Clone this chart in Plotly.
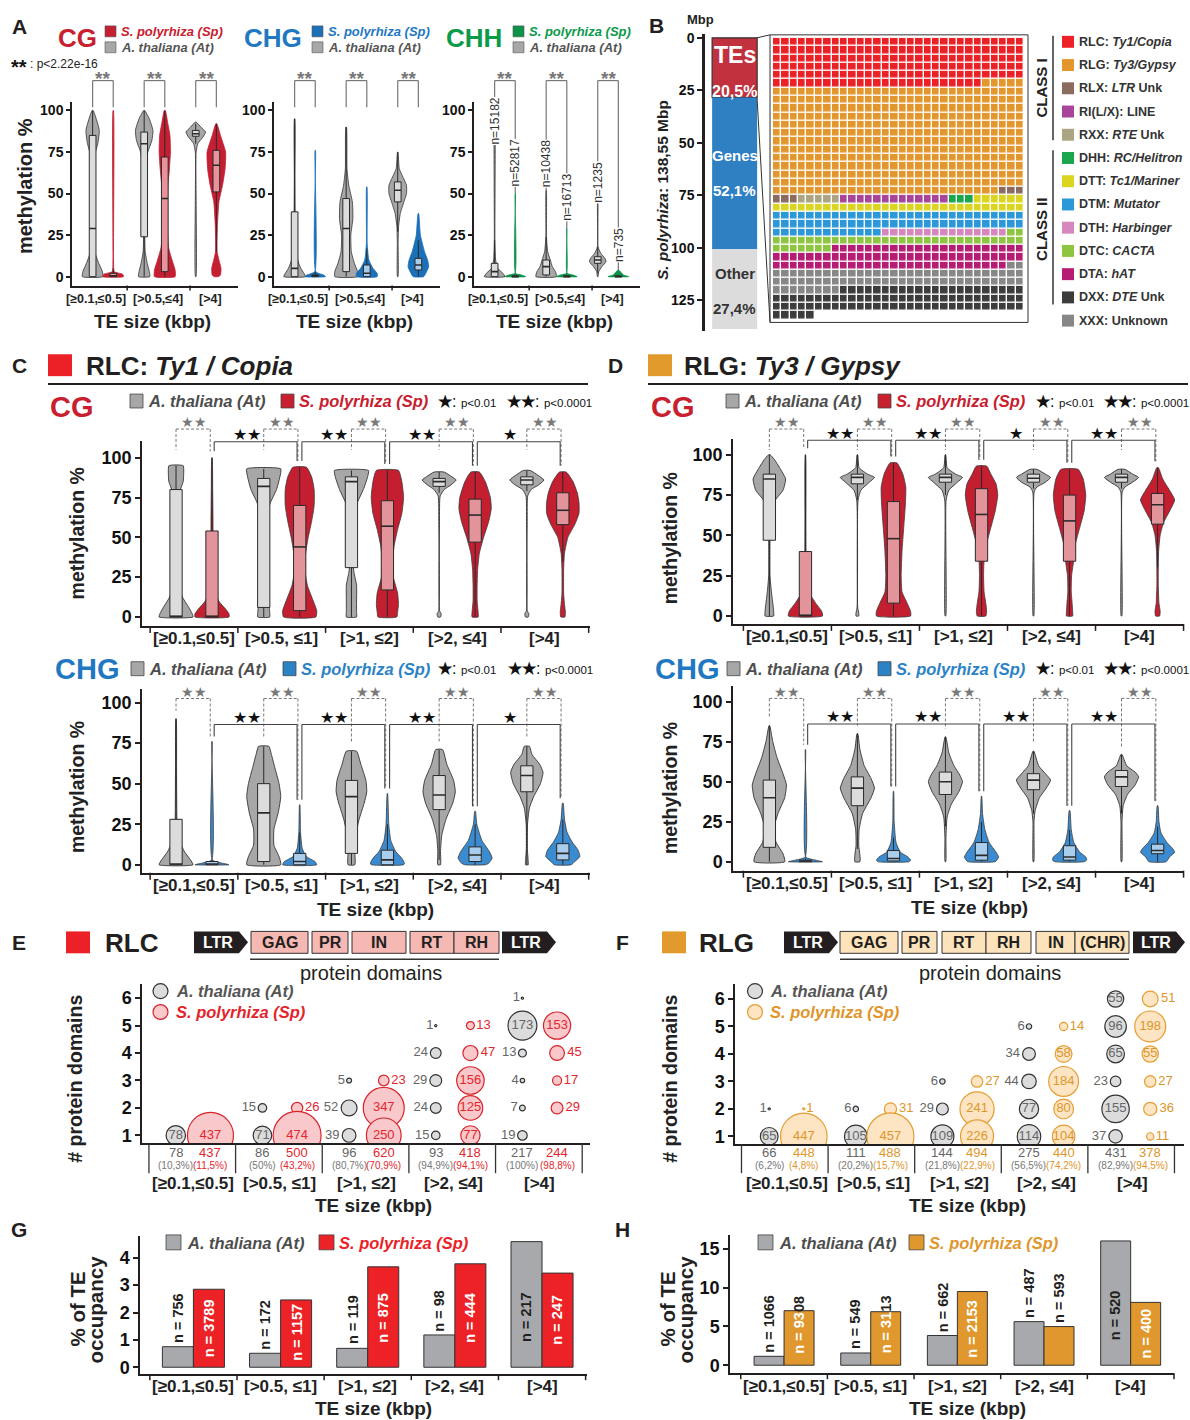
import plotly.graph_objects as go

W, H = 1190, 1420
FONT = "Liberation Sans, Arial, Helvetica, sans-serif"

# ======================= DATA =======================
A_GROUPS = ["[≥0.1,≤0.5]", "[>0.5,≤4]", "[>4]"]
SIZE_GROUPS = ["[≥0.1,≤0.5]", "[>0.5, ≤1]", "[>1, ≤2]", "[>2, ≤4]", "[>4]"]

# violin density profiles: (methylation %, relative half-width); boxes: (q1, median, q3, low, high)
A_CG_AT = [
    [(100, .05), (95, .35), (88, .65), (80, .5), (72, .15), (60, .06), (40, .05), (25, .08), (15, .2), (8, .6), (3, .95), (0, 1.0)],
    [(100, .05), (95, .5), (88, .85), (82, .75), (75, .35), (65, .12), (50, .06), (30, .05), (15, .1), (8, .3), (3, .5), (0, .55)],
    [(93, .05), (90, .5), (87, .95), (84, .7), (80, .2), (75, .04), (0, .03)],
]
A_CG_AT_BOX = [(0, 29, 85, 0, 100), (24, 80, 87, 0, 100), (84.5, 86, 88, 80, 92)]
A_CG_SP = [
    [(100, .02), (10, .03), (3, .1), (1.5, .9), (0, 1.0)],
    [(100, .05), (92, .3), (85, .5), (75, .55), (65, .45), (55, .3), (45, .25), (30, .25), (18, .35), (10, .7), (4, 1.0), (0, 1.0)],
    [(92, .05), (85, .4), (75, .9), (65, .85), (55, .6), (45, .25), (30, .1), (15, .08), (10, .25), (5, .45), (1, .4), (0, .2)],
]
A_CG_SP_BOX = [(0, 0.5, 2, 0, 5), (3, 47, 72, 0, 100), (51, 67, 76, 15, 92)]

A_CHG_AT = [
    [(95, .02), (60, .03), (40, .05), (20, .1), (10, .3), (5, .6), (2, .9), (0, 1.05)],
    [(90, .03), (65, .08), (55, .25), (45, .6), (35, .65), (25, .45), (15, .5), (8, .8), (3, 1.1), (0, 1.1)],
    [(75, .02), (65, .15), (60, .5), (55, .85), (50, .85), (45, .6), (38, .25), (30, .08), (20, .04), (0, .03)],
]
A_CHG_AT_BOX = [(0, 5, 39, 0, 95), (3, 29, 47, 0, 90), (45, 52, 57, 27, 75)]
A_CHG_SP = [
    [(76, .02), (3, .05), (1, .8), (0, 1.0)],
    [(54, .02), (20, .04), (10, .2), (5, .6), (2, 1.0), (0, 1.0)],
    [(38, .03), (25, .2), (15, .6), (10, .9), (6, 1.0), (3, .8), (0, .5)],
]
A_CHG_SP_BOX = [(0, 0.5, 1, 0, 3), (0, 2, 7, 0, 17), (4, 7, 11, 0, 22)]

A_CHH_AT = [
    [(100, .015), (22, .03), (10, .1), (5, .3), (2, .8), (0, 1.0)],
    [(52, .015), (24, .03), (15, .15), (10, .4), (6, .6), (3, .9), (0, 1.0)],
    [(44, .015), (18, .03), (14, .3), (11, .7), (9, .8), (6, .4), (3, .1), (0, .03)],
]
A_CHH_AT_BOX = [(0, 3, 8, 0, 22), (1, 6, 10, 0, 24), (8, 10, 12, 2, 18)]
A_CHH_SP = [
    [(50, .015), (2, .03), (1, .6), (0, 1.0)],
    [(29, .015), (2, .03), (1, .6), (0, 1.0)],
    [(4, .03), (1, .5), (0, 1.0)],
]
A_CHH_SP_BOX = [(0, 0, 0.5, 0, 1), (0, 0, 0.5, 0, 1), (0, 0, 0.5, 0, 1)]
A_CHH_N_AT = [15182, 10438, 1235]
A_CHH_N_SP = [52817, 16713, 735]

B_TOTAL_MBP = 138.55
B_PARTS = ["TEs", "Genes", "Other"]
B_PCT = [20.5, 52.1, 27.4]
WAFFLE_CLASSES = ["RLC", "RLG", "RLX", "RXX", "RI(L/X)", "DHH", "DTT", "DTM", "DTH", "DTC", "DTA", "XXX", "DXX"]
WAFFLE_COUNTS = [175, 392, 6, 5, 13, 3, 36, 73, 15, 39, 81, 70, 87]
B_LEG_CODES = ["RLC", "RLG", "RLX", "RI(L/X)", "RXX", "DHH", "DTT", "DTM", "DTH", "DTC", "DTA", "DXX", "XXX"]
B_LEG_NAMES = ["<i>Ty1/Copia</i>", "<i>Ty3/Gypsy</i>", "<i>LTR</i> Unk", "LINE", "<i>RTE</i> Unk",
               "<i>RC/Helitron</i>", "<i>Tc1/Mariner</i>", "<i>Mutator</i>", "<i>Harbinger</i>",
               "<i>CACTA</i>", "<i>hAT</i>", "<i>DTE</i> Unk", "Unknown"]

C_CG_AT = [
    [(95, .42), (90, .45), (85, .42), (80, .25), (75, .08), (65, .04), (45, .04), (30, .06), (20, .15), (12, .4), (6, .75), (2, .95), (0, 1.0)],
    [(93, 1.0), (88, .95), (80, .75), (72, .4), (65, .2), (50, .12), (35, .1), (25, .1), (15, .2), (8, .3), (3, .35), (0, .35)],
    [(92, 1.0), (88, .95), (80, .7), (72, .35), (65, .15), (50, .08), (35, .08), (28, .15), (20, .3), (10, .3), (3, .3), (0, .3)],
    [(91, .3), (88, .75), (86, 1.0), (83, .7), (80, .3), (76, .06), (60, .02), (4, .02), (2, .12), (0, .08)],
    [(92, .2), (89, .65), (86, 1.0), (83, .7), (80, .25), (76, .05), (60, .02), (4, .02), (2, .12), (0, .08)],
]
C_CG_AT_BOX = [(0, 0.5, 80, 0, 95), (6, 82, 87, 0, 93), (31, 85, 88, 0, 92), (82, 85, 87, 78, 91), (83, 86, 88, 79, 92)]
C_CG_SP = [
    [(100, .01), (80, .04), (60, .06), (45, .06), (30, .05), (20, .08), (10, .4), (5, .8), (2, 1.0), (0, 1.0)],
    [(94, .4), (88, .7), (80, .85), (70, .85), (60, .7), (50, .5), (40, .35), (30, .3), (20, .45), (10, .8), (4, 1.0), (0, .95)],
    [(92, .65), (85, .85), (75, .95), (65, .85), (55, .6), (45, .4), (35, .3), (25, .35), (15, .6), (8, .65), (3, .6), (0, .55)],
    [(91, .25), (85, .6), (75, .9), (68, .95), (60, .8), (50, .5), (40, .25), (30, .15), (20, .12), (10, .12), (3, .18), (0, .18)],
    [(91, .2), (85, .6), (78, .85), (72, .95), (65, .95), (58, .7), (50, .3), (40, .1), (30, .05), (15, .05), (8, .1), (3, .15), (0, .12)],
]
C_CG_SP_BOX = [(0, 0.5, 54, 0, 100), (4, 44, 70, 0, 94), (17, 57, 73, 0, 92), (47, 64, 74, 0, 91), (58, 67, 78, 35, 91)]
C_CHG_AT = [
    [(90, .01), (60, .03), (40, .04), (25, .06), (15, .2), (8, .5), (3, .85), (0, 1.0)],
    [(73, .3), (68, .45), (60, .65), (50, .9), (42, 1.0), (32, .85), (22, .6), (12, .6), (5, .9), (0, 1.0)],
    [(70, .3), (62, .55), (52, .85), (45, .9), (38, .75), (28, .45), (18, .25), (8, .2), (0, .2)],
    [(71, .2), (62, .45), (52, .85), (45, .95), (38, .8), (28, .4), (18, .15), (8, .08), (0, .08)],
    [(73, .15), (68, .3), (62, .75), (57, .95), (50, .8), (42, .4), (35, .15), (25, .04), (10, .03), (2, .08), (0, .08)],
]
C_CHG_AT_BOX = [(0, 0.5, 28, 0, 90), (2, 32, 50, 0, 73), (7, 42, 52, 0, 70), (34, 43, 55, 3, 71), (45, 55, 61, 0, 73)]
C_CHG_SP = [
    [(76, .01), (3, .02), (1, .6), (0, 1.0)],
    [(37, .01), (20, .05), (10, .15), (5, .4), (2, .9), (0, 1.0)],
    [(44, .01), (25, .08), (15, .2), (8, .5), (4, .85), (1, 1.0), (0, .95)],
    [(33, .02), (25, .1), (15, .4), (8, .85), (4, 1.0), (1, .8), (0, .6)],
    [(38, .02), (28, .1), (20, .25), (14, .55), (9, .9), (5, 1.0), (2, .7), (0, .5)],
]
C_CHG_SP_BOX = [(0, 0.5, 2, 0, 3), (0, 2, 7, 0, 20), (0, 3, 9, 0, 25), (2, 6, 11, 0, 25), (3, 7, 13, 0, 28)]

D_CG_AT = [
    [(100, .05), (97, .3), (92, .6), (85, .95), (78, .8), (72, .35), (65, .1), (50, .04), (25, .04), (15, .12), (8, .2), (3, .25), (0, .25)],
    [(100, .02), (92, .1), (88, .6), (86, 1.0), (83, .7), (78, .2), (72, .04), (5, .02), (2, .08), (0, .08)],
    [(100, .02), (92, .1), (88, .6), (86, 1.0), (83, .7), (78, .2), (72, .04), (0, .02)],
    [(91, .2), (88, .7), (86, 1.0), (83, .7), (80, .2), (77, .04), (0, .02)],
    [(91, .2), (88, .65), (86, 1.0), (83, .65), (80, .2), (77, .04), (0, .02)],
]
D_CG_AT_BOX = [(47, 85, 88, 0, 100), (82, 86, 88, 72, 100), (83, 86, 88, 75, 100), (83, 85.5, 88, 79, 91), (83, 86, 88, 79, 91)]
D_CG_SP = [
    [(100, .01), (60, .03), (30, .05), (15, .2), (8, .6), (3, .95), (0, 1.0)],
    [(95, .2), (88, .55), (80, .72), (70, .7), (55, .6), (40, .5), (25, .45), (15, .5), (8, .8), (3, 1.0), (0, 1.0)],
    [(93, .3), (88, .55), (82, .85), (75, .95), (65, .8), (55, .55), (45, .3), (35, .15), (25, .12), (15, .15), (8, .25), (3, .3), (0, .25)],
    [(91, .5), (85, .8), (75, .95), (65, .85), (55, .6), (45, .35), (35, .25), (25, .12), (15, .1), (8, .15), (3, .18), (0, .18)],
    [(92, .05), (85, .3), (78, .7), (72, 1.0), (66, .75), (58, .35), (50, .15), (40, .06), (20, .04), (8, .08), (3, .15), (0, .12)],
]
D_CG_SP_BOX = [(0, 0.5, 40, 0, 100), (8, 48, 71, 0, 95), (34, 63, 79, 0, 93), (34, 59, 75, 0, 91), (57, 69, 76, 30, 92)]
D_CHG_AT = [
    [(85, .02), (75, .2), (65, .45), (55, .8), (48, 1.0), (40, .9), (30, .5), (20, .25), (12, .4), (5, .8), (0, .9)],
    [(80, .02), (70, .15), (60, .4), (52, .8), (46, 1.0), (40, .8), (30, .3), (20, .1), (10, .08), (4, .15), (0, .15)],
    [(78, .02), (68, .2), (60, .5), (54, .85), (50, 1.0), (44, .8), (36, .35), (28, .1), (15, .03), (0, .02)],
    [(69, .03), (60, .3), (55, .7), (51, 1.0), (46, .75), (40, .35), (32, .1), (25, .03), (0, .02)],
    [(67, .03), (60, .3), (56, .8), (53, 1.0), (48, .8), (42, .35), (35, .1), (25, .03), (0, .02)],
]
D_CHG_AT_BOX = [(9, 40, 51, 0, 85), (35, 46, 53, 8, 80), (42, 50, 56, 22, 78), (45, 51, 55, 30, 69), (47, 53, 57, 30, 67)]
D_CHG_SP = [
    [(70, .01), (3, .02), (1, .6), (0, 1.0)],
    [(44, .01), (25, .04), (12, .15), (6, .4), (3, .85), (1, 1.0), (0, .9)],
    [(41, .01), (30, .06), (20, .2), (12, .45), (6, .85), (3, 1.0), (1, .9), (0, .8)],
    [(32, .02), (20, .1), (12, .25), (6, .6), (3, .95), (1, 1.0), (0, .85)],
    [(35, .02), (25, .08), (18, .2), (12, .55), (8, .9), (6, 1.0), (3, .7), (0, .5)],
]
D_CHG_SP_BOX = [(0, 0.5, 1, 0, 2), (0.5, 2, 7, 0, 15), (1, 4, 12, 0, 25), (1, 3, 10, 0, 20), (5, 7, 11, 0, 22)]

C_CG_SIG = ["★★", "★★", "★★", "★"]
C_CHG_SIG = ["★★", "★★", "★★", "★"]
D_CG_SIG = ["★★", "★★", "★", "★★"]
D_CHG_SIG = ["★★", "★★", "★★", "★★"]

# bubble data: per size class, (number of protein domains, count)
E_AT = [[(1, 78)], [(2, 15), (1, 71)], [(3, 5), (2, 52), (1, 39)],
        [(5, 1), (4, 24), (3, 29), (2, 24), (1, 15)], [(6, 1), (5, 173), (4, 13), (3, 4), (2, 7), (1, 19)]]
E_SP = [[(1, 437)], [(2, 26), (1, 474)], [(3, 23), (2, 347), (1, 250)],
        [(5, 13), (4, 47), (3, 156), (2, 125), (1, 77)], [(5, 153), (4, 45), (3, 17), (2, 29)]]
E_TOT_AT = [78, 86, 96, 93, 217]
E_PCT_AT = ["10,3%", "50%", "80,7%", "94,9%", "100%"]
E_TOT_SP = [437, 500, 620, 418, 244]
E_PCT_SP = ["11,5%", "43,2%", "70,9%", "94,1%", "98,8%"]
F_AT = [[(2, 1), (1, 65)], [(2, 6), (1, 105)], [(3, 6), (2, 29), (1, 109)],
        [(5, 6), (4, 34), (3, 44), (2, 77), (1, 114)], [(6, 55), (5, 96), (4, 65), (3, 23), (2, 155), (1, 37)]]
F_SP = [[(2, 1), (1, 447)], [(2, 31), (1, 457)], [(3, 27), (2, 241), (1, 226)],
        [(5, 14), (4, 58), (3, 184), (2, 80), (1, 104)], [(6, 51), (5, 198), (4, 55), (3, 27), (2, 36), (1, 11)]]
F_TOT_AT = [66, 111, 144, 275, 431]
F_PCT_AT = ["6,2%", "20,2%", "21,8%", "56,5%", "82,9%"]
F_TOT_SP = [448, 488, 494, 440, 378]
F_PCT_SP = ["4,8%", "15,7%", "22,9%", "74,2%", "94,5%"]

G_AT = [0.75, 0.51, 0.69, 1.18, 4.59]
G_SP = [2.85, 2.46, 3.67, 3.78, 3.44]
G_N_AT = [756, 172, 119, 98, 217]
G_N_SP = [3789, 1157, 875, 444, 247]
H_AT = [1.15, 1.58, 3.83, 5.62, 16.02]
H_SP = [7.03, 6.9, 9.5, 4.98, 8.1]
H_N_AT = [1066, 549, 662, 487, 520]
H_N_SP = [9308, 3113, 2153, 593, 400]

# ======================= STYLE =======================
DARK = "#231f20"
GRAY_V = "#a7a7a7"
GRAY_BOX = "#dcdcdc"
CG_COL = "#c8202f"
CHG_COL = "#1f78c1"
CHH_COL = "#0b9a4a"
A_RED, A_RED_BOX = "#c41f33", "#e8939c"
A_BLUE, A_BLUE_BOX = "#1b70b8", "#a9cbea"
A_GREEN, A_GREEN_BOX = "#0b9447", "#9fd6b2"
CD_RED, CD_RED_BOX = "#c41e31", "#e3949b"
CD_BLUE, CD_BLUE_BOX = "#3a8bd0", "#a9cdec"
RLC_COL = "#ec2127"
RLG_COL = "#e39a2d"
TE_COLORS = {"RLC": "#ec2127", "RLG": "#e3962b", "RLX": "#8b6a60", "RI(L/X)": "#a8459b", "RXX": "#aba583",
             "DHH": "#1aa64d", "DTT": "#dcd51f", "DTM": "#2b98d9", "DTH": "#d687be", "DTC": "#8dc540",
             "DTA": "#b61c73", "XXX": "#878787", "DXX": "#3c3c3c"}

fig = go.Figure()
ANN, SH, LAY, GEO = [], [], {}, {}


def sfx(n):
    return "" if n == 1 else str(n)


def add_axes(n, l, r, t, b, xr, yr, yticks=None, ytsize=15, xline=1.5, yline=1.5, ticklen=4):
    GEO[n] = (l, r, t, b, xr, yr)
    s = sfx(n)
    LAY["xaxis" + s] = dict(domain=[l / W, r / W], range=xr, anchor="y" + s, showgrid=False, zeroline=False,
                            showticklabels=False, ticks="", showline=xline > 0, linecolor=DARK,
                            linewidth=max(xline, 0.1), fixedrange=True)
    yd = dict(domain=[1 - b / H, 1 - t / H], range=yr, anchor="x" + s, showgrid=False, zeroline=False,
              showline=yline > 0, linecolor=DARK, linewidth=max(yline, 0.1), fixedrange=True)
    if yticks is not None:
        yd.update(tickmode="array", tickvals=yticks, ticktext=[f"<b>{v}</b>" for v in yticks], ticks="outside",
                  ticklen=ticklen, tickwidth=1.5, tickcolor=DARK, tickfont=dict(size=ytsize, color="#111", family=FONT))
    else:
        yd.update(showticklabels=False, ticks="")
    LAY["yaxis" + s] = yd


def d2p(n, x, y):
    l, r, t, b, xr, yr = GEO[n]
    return (l + (x - xr[0]) / (xr[1] - xr[0]) * (r - l), b - (y - yr[0]) / (yr[1] - yr[0]) * (b - t))


def line(x0, y0, x1, y1, color=DARK, w=1.0, dash=None):
    SH.append(dict(type="line", xref="paper", yref="paper", x0=x0 / W, y0=1 - y0 / H, x1=x1 / W, y1=1 - y1 / H,
                   line=dict(color=color, width=w, dash=dash)))


def rect(x0, y0, x1, y1, fill, lc=None, w=1.0):
    SH.append(dict(type="rect", xref="paper", yref="paper", x0=x0 / W, y0=1 - y1 / H, x1=x1 / W, y1=1 - y0 / H,
                   fillcolor=fill, line=dict(color=lc if lc else "rgba(0,0,0,0)", width=w if lc else 0)))


def circle(cx, cy, r, fill, lc, w=1.0):
    SH.append(dict(type="circle", xref="paper", yref="paper", x0=(cx - r) / W, x1=(cx + r) / W,
                   y0=1 - (cy + r) / H, y1=1 - (cy - r) / H, fillcolor=fill, line=dict(color=lc, width=w)))


def text(s, x, y, size, color=DARK, bold=False, italic=False, xa="center", ya="middle", angle=0,
         xref="paper", yref="paper", bg=None):
    if italic:
        s = f"<i>{s}</i>"
    if bold:
        s = f"<b>{s}</b>"
    d = dict(text=s, x=x / W if xref == "paper" else x, y=1 - y / H if yref == "paper" else y, xref=xref, yref=yref,
             showarrow=False, xanchor=xa, yanchor=ya, textangle=angle,
             font=dict(size=size, color=color, family=FONT), borderpad=0)
    if bg:
        d["bgcolor"] = bg
    ANN.append(d)


def violin(n, xc, prof, half, fill, lc="#333", lw=0.8):
    prof = sorted(prof, key=lambda p: p[0])
    ys = [p[0] for p in prof]
    ws = [p[1] * half for p in prof]
    X = [xc - w for w in ws] + [xc + w for w in ws[::-1]] + [xc - ws[0]]
    Y = ys + ys[::-1] + [ys[0]]
    fig.add_trace(go.Scatter(x=X, y=Y, mode="lines", fill="toself", fillcolor=fill,
                             line=dict(color=lc, width=lw, shape="spline", smoothing=0.5),
                             xaxis="x" + sfx(n), yaxis="y" + sfx(n), hoverinfo="skip", showlegend=False))


def box(n, xc, st, bw, fill, lc="#2a2a2a"):
    q1, med, q3, lo, hi = st
    h = bw / 2
    ax = dict(xaxis="x" + sfx(n), yaxis="y" + sfx(n), hoverinfo="skip", showlegend=False)
    fig.add_trace(go.Scatter(x=[xc, xc, None, xc, xc], y=[lo, q1, None, q3, hi], mode="lines",
                             line=dict(color=lc, width=1), **ax))
    fig.add_trace(go.Scatter(x=[xc - h, xc + h, xc + h, xc - h, xc - h], y=[q1, q1, q3, q3, q1], mode="lines",
                             fill="toself", fillcolor=fill, line=dict(color=lc, width=1), **ax))
    fig.add_trace(go.Scatter(x=[xc - h, xc + h], y=[med, med], mode="lines", line=dict(color=lc, width=1.6), **ax))


def tw(s, size):
    wid = {"n": .611, " ": .278, "=": .584}
    return sum(wid.get(ch, .556) for ch in s) * size


# ======================= PANEL A =======================
text("A", 19, 23, 21, bold=True)
text("**", 10, 63, 20, "#111", bold=True, xa="left")
text(": p&lt;2.22e-16", 29, 60, 12, "#222", xa="left")
A_PANELS = [
    (1, "CG", CG_COL, A_CG_AT, A_CG_AT_BOX, A_CG_SP, A_CG_SP_BOX, A_RED, A_RED_BOX, 72, 77, 105),
    (2, "CHG", CHG_COL, A_CHG_AT, A_CHG_AT_BOX, A_CHG_SP, A_CHG_SP_BOX, A_BLUE, A_BLUE_BOX, 274, 273, 312),
    (3, "CHH", CHH_COL, A_CHH_AT, A_CHH_AT_BOX, A_CHH_SP, A_CHH_SP_BOX, A_GREEN, A_GREEN_BOX, 474, 474, 513),
]
A_LAB_X = [-0.14, 1.07, 2.09]
A_TICK_X = [0.47, 1.69]
A_CHH_NLAB_Y = [93.7, 68.3, 67.8, 47.9, 56.9, 19.3]
for n, name, tcol, at, atb, sp, spb, vcol, bcol, left, tx, sqx in A_PANELS:
    add_axes(n, left, left + 166, 98, 283, [-0.6, 2.62], [-5.4, 105.4], yticks=[0, 25, 50, 75, 100], ytsize=14)
    for i in range(3):
        violin(n, i - 0.2, at[i], 0.2, GRAY_V, "#333")
        box(n, i - 0.2, atb[i], 0.13, GRAY_BOX)
        violin(n, i + 0.2, sp[i], 0.2, vcol, vcol)
        box(n, i + 0.2, spb[i], 0.13, bcol)
        xa_, ytop = d2p(n, i - 0.2, 118)
        xs_, _ = d2p(n, i + 0.2, 118)
        if name == "CHH":
            ba, bs = max(p[0] for p in at[i]), max(p[0] for p in sp[i])
        else:
            ba = bs = 102
        line(xa_, ytop, xs_, ytop, "#777", 1.2)
        line(xa_, ytop, xa_, d2p(n, 0, ba)[1], "#777", 1.2)
        line(xs_, ytop, xs_, d2p(n, 0, bs)[1], "#777", 1.2)
        cx, cy = d2p(n, i, 121.5)
        text("**", cx, cy + 4, 19, "#777", bold=True)
    for i, lab in enumerate(A_GROUPS):
        text(lab, A_LAB_X[i], 296, 12.5, "#222", bold=True, xref="x" + sfx(n))
    for tx_ in A_TICK_X:
        px, py = d2p(n, tx_, -5.4)
        line(px, py, px, py + 5, DARK, 1.5)
    text("TE size (kbp)", left + 80, 319, 19, "#222", bold=True)
    text(name, tx, 34, 26, tcol, bold=True)
    rect(sqx, 22, sqx + 11, 33, vcol, "#555", 0.6)
    text("S. polyrhiza (Sp)", sqx + 15, 27.5, 13, tcol, bold=True, italic=True, xa="left")
    rect(sqx, 38, sqx + 11, 49, GRAY_V, "#555", 0.6)
    text("A. thaliana (At)", sqx + 15, 43.5, 13, "#555", bold=True, italic=True, xa="left")
text("methylation %", 25, 183, 20, "#222", bold=True, angle=-90)
for i in range(3):
    text(f"n={A_CHH_N_AT[i]}", i - 0.2, A_CHH_NLAB_Y[2 * i], 12, "#333", angle=-90, xref="x3", yref="y3", bg="white")
    text(f"n={A_CHH_N_SP[i]}", i + 0.2, A_CHH_NLAB_Y[2 * i + 1], 12, "#333", angle=-90, xref="x3", yref="y3", bg="white")

# ======================= PANEL B =======================
text("B", 656, 22, 21, bold=True)
text("Mbp", 700, 16, 13, bold=True)
add_axes(4, 705, 762, 30, 329, [0, 1], [139.7, -1.9], yticks=[0, 25, 50, 75, 100, 125], ytsize=14, xline=0,
         yline=2.5, ticklen=5)
mbp = [p / 100 * B_TOTAL_MBP for p in B_PCT]
bases = [sum(mbp[:k]) for k in range(len(mbp))]
fig.add_trace(go.Bar(x=[0.52] * 3, y=mbp, base=bases, width=0.79,
                     marker=dict(color=["#c1323e", "#2e80c3", "#dcdcdc"],
                                 line=dict(color=["#333", "rgba(0,0,0,0)", "rgba(0,0,0,0)"], width=[1.2, 0, 0])),
                     xaxis="x4", yaxis="y4", hoverinfo="skip", showlegend=False))
bx = 734.5
text("TEs", bx, 51, 23, "white", bold=True)
text(f"{B_PCT[0]:.1f}%".replace(".", ","), bx, 88, 16, "white", bold=True)
text(B_PARTS[1], bx, 152, 15, "white", bold=True)
text(f"{B_PCT[1]:.1f}%".replace(".", ","), bx, 187, 15, "white", bold=True)
text(B_PARTS[2], bx, 271, 15, "#333", bold=True)
text(f"{B_PCT[2]:.1f}%".replace(".", ","), bx, 306, 15, "#333", bold=True)
text("<i>S. polyrhiza</i>: 138,55 Mbp", 662, 187, 15.5, "#222", bold=True, angle=-90)

add_axes(5, 773, 1024, 34, 317, [-0.5, 29.5], [33.5, -0.5], xline=0, yline=0)
cells = []
for k, c in enumerate(WAFFLE_COUNTS):
    cells += [k] * c
Z = [[None] * 30 for _ in range(34)]
for idx, k in enumerate(cells):
    Z[idx // 30][idx % 30] = k + 0.5
nk = len(WAFFLE_CLASSES)
cs = []
for k, cl in enumerate(WAFFLE_CLASSES):
    cs += [[k / nk, TE_COLORS[cl]], [(k + 1) / nk, TE_COLORS[cl]]]
fig.add_trace(go.Heatmap(z=Z, x=list(range(30)), y=list(range(34)), colorscale=cs, zmin=0, zmax=nk, showscale=False,
                         xgap=1.4, ygap=1.4, xaxis="x5", yaxis="y5", hoverinfo="skip"))
rect(770, 31, 1028, 320, "rgba(0,0,0,0)", "#333", 1)
te_bot = d2p(4, 0, mbp[0])[1]
line(757, 34, 770, 31, "#333", 1)
line(757, te_bot, 770, 320, "#333", 1)
for k, (code, nm) in enumerate(zip(B_LEG_CODES, B_LEG_NAMES)):
    y = 38 + k * 23.35
    rect(1062, y - 6, 1074, y + 6, TE_COLORS[code])
    text(f"{code}: {nm}", 1078, y, 12.5, "#333", bold=True, xa="left")
line(1053, 32, 1053, 137, "#333", 1.5)
line(1053, 147, 1053, 302, "#333", 1.5)
text("CLASS I", 1042, 85, 15, "#222", bold=True, angle=-90)
text("CLASS II", 1042, 227, 15, "#222", bold=True, angle=-90)

# ======================= PANELS C & D =======================
text("C", 19, 363, 21, bold=True)
rect(48, 352, 72, 374, RLC_COL)
text("RLC: <i>Ty1 / Copia</i>", 85, 364, 26, DARK, bold=True, xa="left")
line(48, 382, 588, 382, DARK, 2)
text("D", 615, 363, 21, bold=True)
rect(648, 352, 672, 374, RLG_COL)
text("RLG: <i>Ty3 / Gypsy</i>", 683, 364, 26, DARK, bold=True, xa="left")
line(648, 382, 1188, 382, DARK, 2)

CD_PANELS = [
    (6, 142, 590, 439, 625, [-0.593, 4.515], [-5.6, 110.6], C_CG_AT, C_CG_AT_BOX, C_CG_SP, C_CG_SP_BOX,
     CD_RED, CD_RED_BOX, C_CG_SIG, (118, 122.5, 110, 114.5, 105, 4)),
    (7, 142, 590, 688, 873, [-0.593, 4.515], [-4.9, 108.6], C_CHG_AT, C_CHG_AT_BOX, C_CHG_SP, C_CHG_SP_BOX,
     CD_BLUE, CD_BLUE_BOX, C_CHG_SIG, (102.5, 106.5, 86.5, 91, None, 3)),
    (8, 733, 1184, 437, 623, [-0.618, 4.505], [-4.9, 109.9], D_CG_AT, D_CG_AT_BOX, D_CG_SP, D_CG_SP_BOX,
     CD_RED, CD_RED_BOX, D_CG_SIG, (116, 120.5, 109, 113, 103, 4)),
    (9, 733, 1184, 685, 871, [-0.618, 4.505], [-5.6, 110], D_CHG_AT, D_CHG_AT_BOX, D_CHG_SP, D_CHG_SP_BOX,
     CD_BLUE, CD_BLUE_BOX, D_CHG_SIG, (102, 106, 86, 90.5, None, 3)),
]
HALF = 0.194
OFF = 0.205
for (n, l, r, t, b, xr, yr, at, atb, sp, spb, vcol, bcol, sig, br) in CD_PANELS:
    gtop, gstar, btop, bstar, atleg, spadd = br
    add_axes(n, l, r, t, b, xr, yr, yticks=[0, 25, 50, 75, 100], ytsize=18, ticklen=5)
    for i in range(5):
        violin(n, i - OFF, at[i], HALF, GRAY_V, "#333", 0.9)
        box(n, i - OFF, atb[i], 0.14, GRAY_BOX)
        violin(n, i + OFF, sp[i], HALF, vcol, "#3a3a3a", 0.8)
        box(n, i + OFF, spb[i], 0.14, bcol)
    for i in range(5):
        at_max = max(p[0] for p in at[i])
        sp_max = max(p[0] for p in sp[i])
        a_bot = atleg if atleg is not None else min(at_max + 5, gtop - 1)
        s_bot = min(sp_max + spadd, btop - 1)
        xa_, yt = d2p(n, i - OFF, gtop)
        xs_, _ = d2p(n, i + OFF - 0.02, gtop)
        line(xa_, yt, xs_, yt, "#777", 1, "3px,2px")
        line(xa_, yt, xa_, d2p(n, 0, a_bot)[1], "#777", 1, "3px,2px")
        line(xs_, yt, xs_, d2p(n, 0, s_bot)[1], "#777", 1, "3px,2px")
        cx, cy = d2p(n, i, gstar)
        text("★★", cx, cy, 14, "#7a7a7a")
    for i in range(4):
        x0p, yt = d2p(n, i + OFF + 0.025, btop)
        x1p, _ = d2p(n, i + 1 + OFF - 0.03, btop)
        b0 = min(max(p[0] for p in sp[i]) + spadd, btop - 1)
        b1 = min(max(p[0] for p in sp[i + 1]) + spadd, btop - 1)
        line(x0p, yt, x1p, yt, "#444", 1.1)
        line(x0p, yt, x0p, d2p(n, 0, b0)[1], "#444", 1.1)
        line(x1p, yt, x1p, d2p(n, 0, b1)[1], "#444", 1.1)
        cx, cy = d2p(n, i + 0.6, bstar)
        text(sig[i], cx, cy, 16, "#111")
    for k in range(6):
        px, py = d2p(n, k - 0.5, yr[0])
        line(px, py, px, py + 7, DARK, 1.5)
    for i, lab in enumerate(SIZE_GROUPS):
        text(lab, i, b + 13, 17, "#222", bold=True, xref="x" + sfx(n))


def sublegend(lab, labcol, lab_x, lab_y, y, sq1, sq2, spcol, st1, st2):
    text(lab, lab_x, lab_y, 29, labcol, bold=True)
    rect(sq1, y - 7, sq1 + 13, y + 7, GRAY_V, "#444", 0.8)
    text("A. thaliana (At)", sq1 + 17, y, 16.5, "#4d4d4d", bold=True, italic=True, xa="left")
    rect(sq2, y - 7, sq2 + 13, y + 7, spcol, "#444", 0.8)
    text("S. polyrhiza (Sp)", sq2 + 17, y, 16.5, spcol, bold=True, italic=True, xa="left")
    text("<b>★</b>: <span style='font-size:11.5px'>p&lt;0.01</span>", st1, y, 16, "#111", xa="left")
    text("<b>★★</b>: <span style='font-size:11.5px'>p&lt;0.0001</span>", st2, y, 16, "#111", xa="left")


sublegend("CG", CG_COL, 72, 405, 399, 130, 281, CG_COL, 437, 506)
sublegend("CHG", CHG_COL, 87, 668, 668, 131, 283, "#2b83c6", 437, 507)
sublegend("CG", CG_COL, 673, 405, 399, 726, 878, CG_COL, 1035, 1103)
sublegend("CHG", CHG_COL, 687, 668, 668, 727, 878, "#2b83c6", 1035, 1103)
text("methylation %", 77, 532, 19.5, "#222", bold=True, angle=-90)
text("methylation %", 77, 787, 19.5, "#222", bold=True, angle=-90)
text("methylation %", 670, 537, 19.5, "#222", bold=True, angle=-90)
text("methylation %", 670, 788, 19.5, "#222", bold=True, angle=-90)
text("TE size (kbp)", 375, 910, 19, "#222", bold=True)
text("TE size (kbp)", 969, 908, 19, "#222", bold=True)


# ======================= PANELS E & F =======================
def ltr(x0, x1, yc, h=22):
    tip = 9
    yt, yb, ym = 1 - (yc - h / 2) / H, 1 - (yc + h / 2) / H, 1 - yc / H
    path = (f"M {x0 / W},{yt} L {(x1 - tip) / W},{yt} L {x1 / W},{ym} "
            f"L {(x1 - tip) / W},{yb} L {x0 / W},{yb} Z")
    SH.append(dict(type="path", xref="paper", yref="paper", path=path, fillcolor=DARK, line=dict(width=0)))
    text("LTR", (x0 + x1 - tip) / 2 + 1, yc, 16, "white", bold=True)


def domains(items, fill, yc=943):
    for lab, x0, x1 in items:
        rect(x0, yc - 11, x1, yc + 11, fill, "#333", 1)
        text(lab, (x0 + x1) / 2, yc, 16, DARK, bold=True)


text("E", 19, 943, 21, bold=True)
rect(66, 932, 90, 954, RLC_COL)
text("RLC", 104, 944, 26, DARK, bold=True, xa="left")
ltr(194, 248, 943)
domains([("GAG", 251, 308), ("PR", 312, 348), ("IN", 352, 406), ("RT", 410, 454), ("RH", 454, 499)], "#f6b8b3")
ltr(502, 556, 943)
line(250, 960, 499, 960, "#333", 1.5)
text("protein domains", 371, 974, 20, DARK)

text("F", 622, 943, 21, bold=True)
rect(662, 932, 686, 954, RLG_COL)
text("RLG", 698, 944, 26, DARK, bold=True, xa="left")
ltr(784, 838, 943)
domains([("GAG", 840, 898), ("PR", 902, 937), ("RT", 942, 986), ("RH", 986, 1031), ("IN", 1036, 1075),
         ("(CHR)", 1075, 1129)], "#fde3bc")
ltr(1133, 1185, 943)
line(840, 960, 1129, 960, "#333", 1.5)
text("protein domains", 990, 974, 20, DARK)


def bubbles(n, groups, off, fill, lc, tcol, side):
    xs, ys, ss, txt, pos = [], [], [], [], []
    for i, g in enumerate(groups):
        for (y, cnt) in g:
            xs.append(i + off)
            ys.append(y)
            ss.append(2.2 * cnt ** 0.5)
            txt.append(str(cnt))
            pos.append("middle center" if cnt >= 53 else side)
    fig.add_trace(go.Scatter(x=xs, y=ys, mode="markers+text", cliponaxis=True,
                             marker=dict(size=ss, color=fill, line=dict(color=lc, width=1.2), opacity=1),
                             text=txt, textposition=pos, textfont=dict(size=13, color=tcol, family=FONT),
                             xaxis="x" + sfx(n), yaxis="y" + sfx(n), hoverinfo="skip", showlegend=False))


EF = [
    (10, 142, 590, 985, 1145, [-0.59, 4.58], [0.71, 6.51], E_AT, E_SP, "#f9c8cb", "#d9232b", "#e3262d",
     E_TOT_AT, E_PCT_AT, E_TOT_SP, E_PCT_SP, -0.51, 160.5, 75, 373),
    (11, 735, 1184, 985, 1146, [-0.595, 4.59], [0.71, 6.54], F_AT, F_SP, "#fde5c4", "#e59d33", "#e0952a",
     F_TOT_AT, F_PCT_AT, F_TOT_SP, F_PCT_SP, -0.52, 755, 670, 967),
]
for (n, l, r, t, b, xr, yr, at, sp, spfill, splc, sptc, tat, pat, tsp, psp, sep0, legx, ytx, xtx) in EF:
    add_axes(n, l, r, t, b, xr, yr, yticks=[1, 2, 3, 4, 5, 6], ytsize=18, xline=2, yline=1.5, ticklen=5)
    bubbles(n, at, -0.2, "#dcdcdc", "#333", "#666", "middle left")
    bubbles(n, sp, 0.2, spfill, splc, sptc, "middle right")
    for k in range(6):
        px, _ = d2p(n, sep0 + k, 0)
        line(px, b, px, 1175, "#333", 1.3)
    xs = "x" + sfx(n)
    for i in range(5):
        text(str(tat[i]), i - 0.2, 1154, 13, "#666", xref=xs)
        text(str(tsp[i]), i + 0.2, 1154, 13, sptc, xref=xs)
        text(f"({pat[i]})", i - 0.2, 1167.5, 10, "#777", xref=xs)
        text(f"({psp[i]})", i + 0.2, 1167.5, 10, sptc, xref=xs)
        text(SIZE_GROUPS[i], i, 1185, 17, "#222", bold=True, xref=xs)
    text("TE size (kbp)", xtx, 1207, 19, "#222", bold=True)
    text("# protein domains", ytx, 1080, 19.5, "#222", bold=True, angle=-90)
    circle(legx, 992, 7.5, "#dcdcdc", "#333", 1.2)
    text("A. thaliana (At)", legx + 14, 992, 16.5, "#555", bold=True, italic=True, xa="left")
    circle(legx, 1013, 7.5, spfill, splc, 1.2)
    text("S. polyrhiza (Sp)", legx + 14, 1013, 16.5, sptc, bold=True, italic=True, xa="left")

# ======================= PANELS G & H =======================
GH = [
    (12, 140, 587, 1238, 1377, [-0.613, 4.516], [-0.255, 4.8], [0, 1, 2, 3, 4], G_AT, G_SP, G_N_AT, G_N_SP,
     "#ec2227", 0.178, "G", 19, 166, 319, (78, 96), 373),
    (13, 730, 1174, 1237, 1376, [-0.624, 4.5], [-1.03, 16.8], [0, 5, 10, 15], H_AT, H_SP, H_N_AT, H_N_SP,
     "#e0972d", 0.173, "H", 622, 758, 909, (668, 686), 967),
]
FS = 14.5
for (n, l, r, t, b, xr, yr, yt, av, sv, an, sn, scol, off, letter, lx, sq1, sq2, ytx, xtx) in GH:
    add_axes(n, l, r, t, b, xr, yr, yticks=yt, ytsize=18, ticklen=5)
    xs = "x" + sfx(n)
    ys = "y" + sfx(n)
    fig.add_trace(go.Bar(x=[i - off for i in range(5)], y=av, width=2 * off,
                         marker=dict(color="#a7a9ac", line=dict(color="#333", width=1)),
                         xaxis=xs, yaxis=ys, hoverinfo="skip", showlegend=False))
    fig.add_trace(go.Bar(x=[i + off for i in range(5)], y=sv, width=2 * off,
                         marker=dict(color=scol, line=dict(color="#333", width=1)),
                         xaxis=xs, yaxis=ys, hoverinfo="skip", showlegend=False))
    pxu = (b - t) / (yr[1] - yr[0])
    for series, vals, ns, incol in (("at", av, an, DARK), ("sp", sv, sn, "white")):
        for i, (v, nn) in enumerate(zip(vals, ns)):
            s = f"n = {nn}"
            L = tw(s, FS)
            bpx = v * pxu
            xo = i - off if series == "at" else i + off
            if bpx >= 0.9 * L:
                if bpx >= L + 8:
                    c = max(min(bpx / 2, 50), L / 2 + 6)
                    text(s, xo, c / pxu, FS, incol, bold=True, angle=-90, xref=xs, yref=ys)
                else:
                    # label overflows the bar top: inside part in bar colour contrast, outside part dark
                    start = 12
                    k = len(s)
                    while k > 0 and tw(s[:k], FS) > bpx - start + 1:
                        k -= 1
                    p1, p2 = s[:k], s[k:]
                    w1 = tw(p1, FS)
                    w2 = tw(p2, FS)
                    text(p1, xo, (start + w1 / 2) / pxu, FS, incol, bold=True, angle=-90, xref=xs, yref=ys)
                    if p2:
                        text(p2, xo, (start + w1 + w2 / 2) / pxu, FS, DARK, bold=True, angle=-90, xref=xs, yref=ys)
            else:
                c = bpx + 4 + L / 2
                text(s, xo, c / pxu, FS, DARK, bold=True, angle=-90, xref=xs, yref=ys)
    for k in range(6):
        px, py = d2p(n, k - 0.5, yr[0])
        line(px, py, px, py + 6, DARK, 1.5)
    for i in range(5):
        text(SIZE_GROUPS[i], i, 1389, 17, "#222", bold=True, xref=xs)
    text("TE size (kbp)", xtx, 1411, 19, "#222", bold=True)
    text("% of TE", ytx[0], 1312, 20.5, "#222", bold=True, angle=-90)
    text("occupancy", ytx[1], 1312, 20.5, "#222", bold=True, angle=-90)
    text(letter, lx, 1232, 21, bold=True)
    rect(sq1, 1237, sq1 + 15, 1252, "#a7a9ac", "#444", 0.8)
    text("A. thaliana (At)", sq1 + 20, 1245, 16.5, "#4d4d4d", bold=True, italic=True, xa="left")
    rect(sq2, 1237, sq2 + 15, 1252, scol, "#444", 0.8)
    text("S. polyrhiza (Sp)", sq2 + 19, 1245, 16.5, scol, bold=True, italic=True, xa="left")

fig.update_layout(width=W, height=H, margin=dict(l=0, r=0, t=0, b=0), paper_bgcolor="white",
                  plot_bgcolor="white", showlegend=False, barmode="overlay", font=dict(family=FONT),
                  annotations=ANN, shapes=SH, **LAY)
fig.write_html("out.html", config={"displayModeBar": False},
               post_script="document.body.style.margin='0px';document.body.style.overflow='hidden';")
